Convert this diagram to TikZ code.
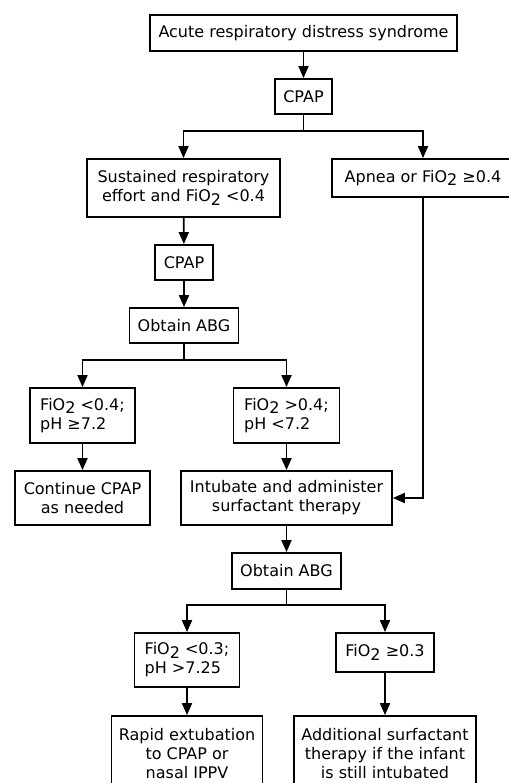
\documentclass[tikz,border=0pt]{standalone}
\usepackage{fontspec}
\setmainfont{DejaVu Sans}
\usepackage{tikz}
\usetikzlibrary{arrows.meta, positioning}

\newcommand{\fio}{FiO\raisebox{-0.4ex}{2}}

\begin{document}
\begin{tikzpicture}[
  x=1pt, y=-1pt,
  box/.style={draw, line width=1.8pt, align=center, inner sep=0pt,
              font=\fontsize{16}{19}\selectfont},
  lbox/.style={box, align=left},
  arrow/.style={-{Triangle[length=12pt,width=10pt]}, line width=1.8pt}
]
  \useasboundingbox (0,0) rectangle (508,783);

  % top of the chart
  \node[box, minimum width=307pt, minimum height=36pt] (ards) at (303.5,33)
        {Acute respiratory distress syndrome};
  \node[box, minimum width=57pt, minimum height=35pt] (cpap) at (303.5,96.5) {CPAP};

  % first split
  \node[box, minimum width=193pt, minimum height=58pt] (effort) at (183.5,188)
        {Sustained respiratory\\effort and \fio{} <0.4};
  \node[box, minimum width=182pt, minimum height=38pt] (apnea) at (423,178)
        {Apnea or \fio{} ≥0.4};

  % left branch
  \node[box, minimum width=58pt, minimum height=35pt] (cpapb) at (184,262.5) {CPAP};
  \node[box, minimum width=109pt, minimum height=35pt] (abg) at (184,325.5) {Obtain ABG};
  \node[lbox, minimum width=105pt, minimum height=55pt] (lowfio) at (82.5,415.5)
        {\fio{} <0.4;\\pH ≥7.2};
  \node[lbox, minimum width=106pt, minimum height=55pt] (highfio) at (286.5,415.5)
        {\fio{} >0.4;\\pH <7.2};
  \node[box, minimum width=135pt, minimum height=54pt] (cont) at (82.5,498)
        {Continue CPAP\\as needed};
  \node[box, minimum width=211pt, minimum height=54pt] (intub) at (286.5,498)
        {Intubate and administer\\surfactant therapy};

  % after surfactant
  \node[box, minimum width=109pt, minimum height=36pt] (abgb) at (286.5,571) {Obtain ABG};
  \node[lbox, minimum width=105pt, minimum height=54pt] (lowfiob) at (187,660)
        {\fio{} <0.3;\\pH >7.25};
  \node[box, minimum width=98pt, minimum height=39pt] (highfiob) at (385,652.5)
        {\fio{} ≥0.3};
  \node[box, minimum width=151pt, minimum height=75pt] (extub) at (187,753.5)
        {Rapid extubation\\to CPAP or\\nasal IPPV};
  \node[box, minimum width=182pt, minimum height=75pt] (more) at (385,753.5)
        {Additional surfactant\\therapy if the infant\\is still intubated};

  % arrows
  \draw[arrow] (ards) -- (cpap);
  \draw[arrow] (cpap.south) -- ++(0,16) -| (effort.north);
  \draw[arrow] (cpap.south) -- ++(0,16) -| (apnea.north);
  \draw[arrow] (effort) -- (cpapb);
  \draw[arrow] (cpapb) -- (abg);
  \draw[arrow] (abg.south) -- ++(0,16) -| (lowfio.north);
  \draw[arrow] (abg.south) -- ++(0,16) -| (highfio.north);
  \draw[arrow] (lowfio) -- (cont);
  \draw[arrow] (highfio) -- (intub);
  \draw[arrow] (apnea.south) |- (intub.east);
  \draw[arrow] (intub) -- (abgb);
  \draw[arrow] (abgb.south) -- ++(0,15) -| (lowfiob.north);
  \draw[arrow] (abgb.south) -- ++(0,15) -| (highfiob.north);
  \draw[arrow] (lowfiob) -- (extub);
  \draw[arrow] (highfiob) -- (more);
\end{tikzpicture}
\end{document}
